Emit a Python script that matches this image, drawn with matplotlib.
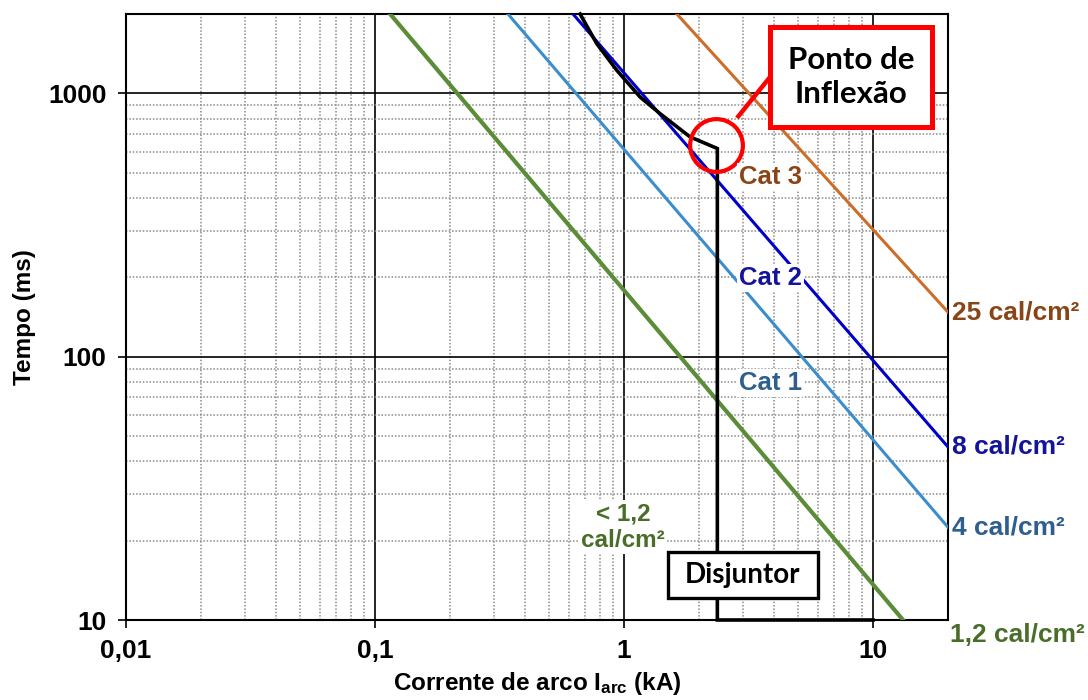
import matplotlib
matplotlib.use("Agg")
import matplotlib.pyplot as plt
import matplotlib.patches as mpatches
import matplotlib.transforms as mtransforms

plt.rcParams['font.family'] = ['Liberation Sans', 'DejaVu Sans']
plt.rcParams['font.weight'] = 'bold'
plt.rcParams['axes.labelweight'] = 'bold'
plt.rcParams['mathtext.fontset'] = 'custom'
plt.rcParams['mathtext.rm'] = 'Liberation Sans:bold'
plt.rcParams['mathtext.bf'] = 'Liberation Sans:bold'

# --- incident energy lines: arc current (kA) vs time (ms), read at the axis edges ---
i_12 = [0.115, 13.2]
t_12 = [2000, 10]
i_4 = [0.342, 20]
t_4 = [2000, 22.5]
i_8 = [0.624, 20]
t_8 = [2000, 45.4]
i_25 = [1.63, 20]
t_25 = [2000, 147.6]

energy_labels = ["1,2 cal/cm²", "4 cal/cm²", "8 cal/cm²", "25 cal/cm²"]
category_labels = ["< 1,2\ncal/cm²", "Cat 1", "Cat 2", "Cat 3"]

# --- breaker (disjuntor) curve ---
breaker_i = [0.666, 0.777, 0.935, 1.160, 1.395, 1.841, 2.37, 2.37, 10]
breaker_t = [2000, 1544, 1223, 968, 837, 683, 617, 10, 10]

# inflection point
inflexion_i = 2.35
inflexion_t = 635

x_ticks = [0.01, 0.1, 1, 10]
x_ticklabels = ["0,01", "0,1", "1", "10"]
y_ticks = [10, 100, 1000]
y_ticklabels = ["10", "100", "1000"]

# colours
c_green, c_green_txt = '#5B8C38', '#4A6E2A'
c_lblue, c_lblue_txt = '#3C8DCB', '#2F5F8F'
c_dblue, c_dblue_txt = '#0000C8', '#14149B'
c_orange, c_orange_txt = '#CC6D29', '#8A4516'

fig = plt.figure(figsize=(10.88, 7), dpi=100)
ax = fig.add_axes([126 / 1088, 80 / 700, 822 / 1088, 606 / 700])

ax.set_xscale('log')
ax.set_yscale('log')
ax.set_xlim(0.01, 20)
ax.set_ylim(10, 2000)

# grid
ax.set_axisbelow(True)
ax.grid(which='major', color='black', lw=1.2, ls='-')
ax.grid(which='minor', color='#8a8a8a', lw=1.1, ls=(0, (1, 1.2)))

# energy lines
ax.plot(i_12, t_12, color=c_green, lw=3.0, zorder=3)
ax.plot(i_4, t_4, color=c_lblue, lw=2.2, zorder=3)
ax.plot(i_8, t_8, color=c_dblue, lw=2.2, zorder=3)
ax.plot(i_25, t_25, color=c_orange, lw=2.2, zorder=3)

# breaker curve
ax.plot(breaker_i, breaker_t, color='black', lw=2.6, zorder=4,
        clip_on=False, solid_joinstyle='miter')

# inflection circle
ax.plot(inflexion_i, inflexion_t, 'o', ms=38, mfc='none', mec='red',
        mew=3.0, zorder=5)

# labels at the right end of the lines
right = mtransforms.blended_transform_factory(ax.transAxes, ax.transData)
ax.text(1.005, t_25[-1], energy_labels[3], transform=right, color=c_orange_txt,
        fontsize=19, ha='left', va='center', clip_on=False)
ax.text(1.005, t_8[-1], energy_labels[2], transform=right, color=c_dblue_txt,
        fontsize=19, ha='left', va='center', clip_on=False)
ax.text(1.005, t_4[-1], energy_labels[1], transform=right, color=c_lblue_txt,
        fontsize=19, ha='left', va='center', clip_on=False)
ax.text(1.003, 8.8, energy_labels[0], transform=right, color=c_green_txt,
        fontsize=19, ha='left', va='center', clip_on=False)

# category labels
wbox = dict(facecolor='white', edgecolor='none', pad=1.5)
ax.text(2.90, 480, category_labels[3], color=c_orange_txt, fontsize=18.5,
        ha='left', va='center', bbox=wbox, zorder=6)
ax.text(2.90, 199, category_labels[2], color=c_dblue_txt, fontsize=18.5,
        ha='left', va='center', bbox=wbox, zorder=6)
ax.text(2.90, 79.3, category_labels[1], color=c_lblue_txt, fontsize=18.5,
        ha='left', va='center', bbox=wbox, zorder=6)
ax.text(0.99, 22.5, category_labels[0], color=c_green_txt, fontsize=17.5,
        ha='center', va='center', linespacing=1.22, bbox=wbox, zorder=6)

# "Ponto de Inflexão" callout
ax.add_patch(mpatches.Rectangle((0.7835, 0.8135), 0.197, 0.165,
                                transform=ax.transAxes, facecolor='white',
                                edgecolor='red', lw=3.6, zorder=7, clip_on=False))
ax.text(0.882, 0.896, "Ponto de\nInflexão", transform=ax.transAxes,
        family='Lato', fontsize=22.5, ha='center', va='center',
        linespacing=1.3, zorder=8)
ax.plot([0.7835, 0.7433], [0.896, 0.8284], transform=ax.transAxes,
        color='red', lw=3.2, zorder=6, solid_capstyle='butt')

# "Disjuntor" box
ax.add_patch(mpatches.Rectangle((0.6594, 0.0363), 0.1825, 0.0759,
                                transform=ax.transAxes, facecolor='white',
                                edgecolor='black', lw=2.4, zorder=7))
ax.text(0.7506, 0.0743, "Disjuntor", transform=ax.transAxes,
        family='Lato', fontsize=20, ha='center', va='center', zorder=8)

# axes styling
ax.set_xticks(x_ticks, x_ticklabels)
ax.set_yticks(y_ticks, y_ticklabels)
ax.tick_params(which='major', direction='out', length=6, width=1.2,
               labelsize=19, pad=8)
ax.tick_params(which='minor', length=0)
for sp in ax.spines.values():
    sp.set_linewidth(1.5)
    sp.set_color('black')

ax.set_xlabel(r"Corrente de arco $\mathbf{I_{arc}}$ (kA)", fontsize=17.5,
              labelpad=5)
ax.set_ylabel("Tempo (ms)", fontsize=17.5, labelpad=9)

fig.savefig("out.png", dpi=100)
